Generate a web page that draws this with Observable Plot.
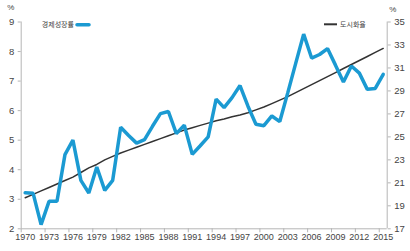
<!DOCTYPE html>
<html><head><meta charset="utf-8">
<script src="https://cdn.jsdelivr.net/npm/d3@7"></script>
<script src="https://cdn.jsdelivr.net/npm/@observablehq/plot@0.6"></script>
<style>body{margin:0;background:#fff;} svg{display:block;}</style>
</head><body><div id="chart"></div>
<script>
const years = [1970,1971,1972,1973,1974,1975,1976,1977,1978,1979,1980,1981,1982,1983,1984,1985,1986,1987,1988,1989,1990,1991,1992,1993,1994,1995,1996,1997,1998,1999,2000,2001,2002,2003,2004,2005,2006,2007,2008,2009,2010,2011,2012,2013,2014,2015];
const growth = [3.22,3.20,2.14,2.93,2.93,4.51,5.00,3.64,3.21,4.09,3.30,3.64,5.44,5.16,4.90,5.02,5.47,5.90,5.97,5.22,5.51,4.52,4.81,5.11,6.39,6.10,6.44,6.85,6.15,5.54,5.49,5.82,5.63,6.60,7.60,8.59,7.78,7.90,8.10,7.54,6.97,7.51,7.27,6.72,6.75,7.23];
const urban = [19.7,20.0,20.3,20.6,20.9,21.2,21.5,21.9,22.3,22.6,23.0,23.3,23.6,23.85,24.1,24.35,24.6,24.85,25.1,25.35,25.6,25.8,26.0,26.2,26.4,26.55,26.75,26.9,27.1,27.35,27.6,27.9,28.2,28.5,28.85,29.2,29.55,29.9,30.25,30.6,30.95,31.3,31.65,32.0,32.35,32.7];
const xLabels = [1970,1973,1976,1979,1982,1985,1988,1991,1994,1997,2000,2003,2006,2009,2012,2015];
const leftTicks = [2,3,4,5,6,7,8,9];
const rightTicks = [17,19,21,23,25,27,29,31,33,35];
const seriesNames = ["경제성장률","도시화율"];
const unit = "%";

const L0 = 2, L1 = 9, R0 = 17, R1 = 35;
const toLeft = u => L0 + (u - R0) * (L1 - L0) / (R1 - R0);
const toRight = v => R0 + (v - L0) * (R1 - R0) / (L1 - L0);

const gData = years.map((y,i)=>({year:y, v:growth[i]}));
const uData = years.map((y,i)=>({year:y, v:toLeft(urban[i])}));
const xMin = years[0]-0.5, xMax = years[years.length-1]+0.5;
const boundaries = xLabels.map(y=>y-0.5);

const axisColor = "#b5b5b5";
const blue = "#1b9ad2";

const chart = Plot.plot({
  width: 410, height: 251,
  marginLeft: 20.7, marginRight: 23.3, marginTop: 21.5, marginBottom: 22.7,
  x: {type:"linear", domain:[xMin, xMax]},
  y: {domain:[L0, L1]},
  style: {fontFamily:"'Liberation Sans', Arial, sans-serif", fontSize:"9px", color:"#444", background:"#fff"},
  marks: [
    Plot.ruleX([xMin, xMax], {stroke: axisColor}),
    Plot.ruleY([L0], {stroke: axisColor}),
    Plot.axisY(leftTicks, {anchor:"left", tickSize:3, tickPadding:4, stroke:axisColor, label:null, fill:"#444", fontSize:9.5}),
    Plot.axisY(rightTicks.map(toLeft), {anchor:"right", tickSize:3, tickPadding:4, stroke:axisColor, label:null, fill:"#444", fontSize:9.5, tickFormat: d => String(Math.round(toRight(d)))}),
    Plot.axisX(boundaries, {anchor:"bottom", tickSize:4, stroke:axisColor, tickFormat: () => "", label:null}),
    Plot.axisX(xLabels, {anchor:"bottom", tickSize:0, tickPadding:5, label:null, fill:"#444", fontSize:9, tickFormat: d => String(d)}),
    Plot.line(uData, {x:"year", y:"v", stroke:"#333", strokeWidth:1.5}),
    Plot.line(gData, {x:"year", y:"v", stroke:blue, strokeWidth:3.5, strokeLinejoin:"miter"})
  ]
});
document.getElementById("chart").appendChild(chart);

const svg = d3.select(chart);
const lg = svg.append("g").attr("font-family","'Noto Sans CJK KR', sans-serif").attr("font-size","7px").attr("fill","#444");
lg.append("text").attr("x",74).attr("y",27).attr("text-anchor","end").text(seriesNames[0]);
lg.append("line").attr("x1",77).attr("x2",89).attr("y1",24.7).attr("y2",24.7).attr("stroke",blue).attr("stroke-width",3.5).attr("stroke-linecap","round");
lg.append("line").attr("x1",324).attr("x2",337).attr("y1",24.3).attr("y2",24.3).attr("stroke","#333").attr("stroke-width",2);
lg.append("text").attr("x",340).attr("y",27).attr("text-anchor","start").text(seriesNames[1]);
const ug = svg.append("g").attr("font-family","'Liberation Sans', Arial, sans-serif").attr("font-size","8px").attr("fill","#444").attr("text-anchor","middle");
ug.append("text").attr("x",10.7).attr("y",10).text(unit);
ug.append("text").attr("x",392.7).attr("y",12).text(unit);
</script></body></html>
